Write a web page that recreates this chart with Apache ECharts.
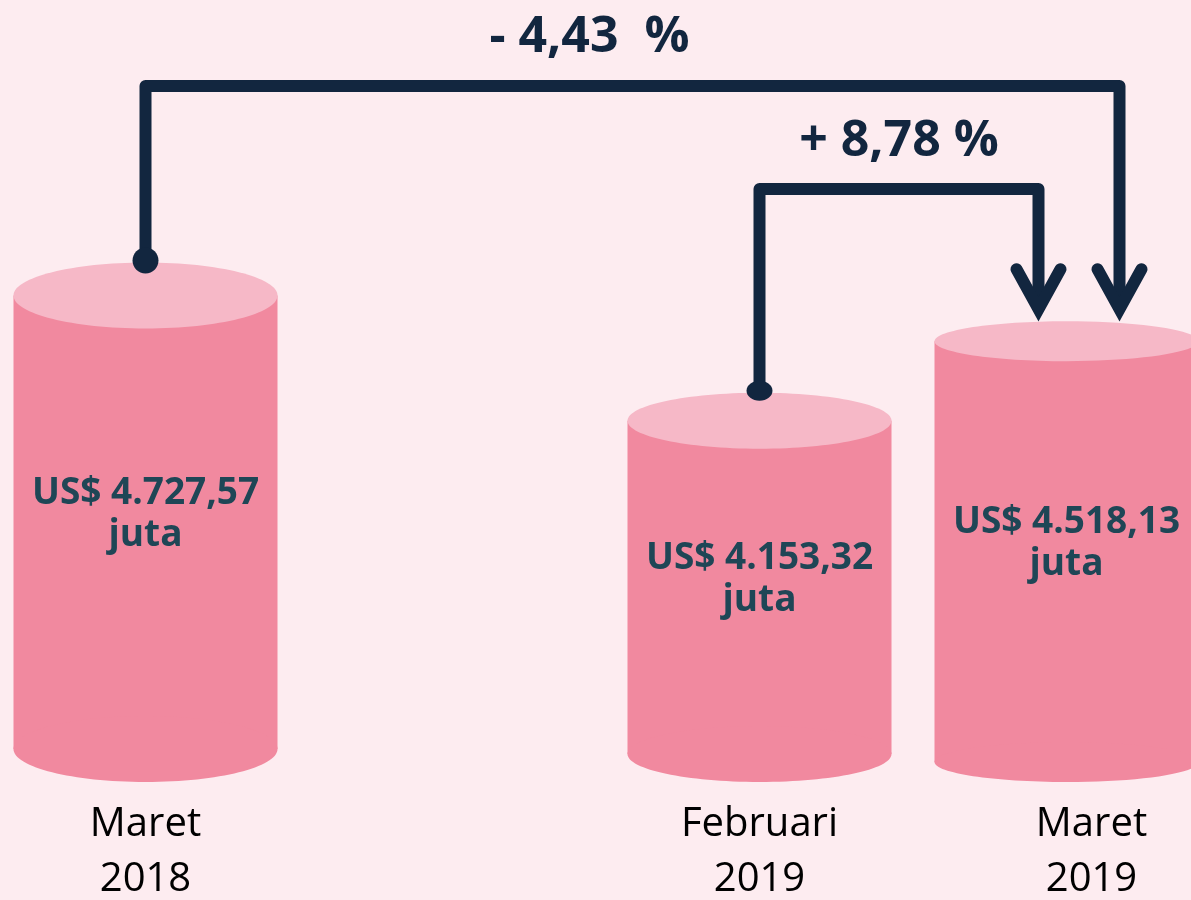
<!DOCTYPE html>
<html>
<head>
<meta charset="utf-8">
<script src="https://cdn.jsdelivr.net/npm/echarts@6/dist/echarts.min.js"></script>
<style>
  html, body { margin: 0; padding: 0; background: #fdecf0; }
  #chart { width: 1191px; height: 900px; }
</style>
</head>
<body>
<div id="chart"></div>
<script>
// data
const periods = ['Maret\n2018', '', 'Februari\n2019', 'Maret\n2019'];
const values = [4727.57, null, 4153.32, 4518.13];
const valueLabels = ['US$ 4.727,57\njuta', '', 'US$ 4.153,32\njuta', 'US$ 4.518,13\njuta'];
const changeFrom = [0, 2];
const changeTo = [3, 3];
const changeLabels = ['- 4,43  %', '+ 8,78 %'];

// look
const capDepth = [33, 0, 28, 20];     // ellipse half-height per slot
const bracketY = [86, 189];
const arrowDx = [53, -28];
const labelDx = [-43, 0];
const labelY = [38, 142];
const Y_MIN = 2500;
const NAVY = '#12263f';

const chart = echarts.init(document.getElementById('chart'));

const cylData = values.map((v, i) => v == null ? null : [i, v]).filter(d => d);

function renderCylinder(params, api) {
    const slot = api.value(0);
    const top = api.coord([slot, api.value(1)]);
    const base = api.coord([slot, Y_MIN]);
    const w = api.size([1, 0])[0] * 0.86;
    const ry = capDepth[slot];
    const botC = base[1] - ry;
    return {
        type: 'group',
        children: [
            { type: 'rect', shape: { x: top[0] - w / 2, y: top[1], width: w, height: botC - top[1] }, style: { fill: '#f1899f' } },
            { type: 'ellipse', shape: { cx: top[0], cy: botC, rx: w / 2, ry: ry }, style: { fill: '#f1899f' } },
            { type: 'ellipse', shape: { cx: top[0], cy: top[1], rx: w / 2, ry: ry }, style: { fill: '#f6b8c7' } },
            {
                type: 'text',
                style: {
                    text: valueLabels[slot],
                    x: top[0], y: (top[1] + botC) / 2 - 8,
                    align: 'center', verticalAlign: 'middle',
                    fontFamily: 'Open Sans', fontWeight: 'bold', fontSize: 37, lineHeight: 42,
                    fill: '#1f4656'
                }
            }
        ]
    };
}

function renderLink(params, api) {
    const i = params.dataIndex;
    const from = changeFrom[i], to = changeTo[i];
    const a = api.coord([from, values[from]]);
    const b = api.coord([to, values[to]]);
    const sx = a[0], sy = a[1] - capDepth[from] - 2;
    const tx = b[0] + arrowDx[i], ty = b[1] - capDepth[to];
    const by = bracketY[i];
    const vertex = ty - 12;
    return {
        type: 'group',
        children: [
            { type: 'polyline', shape: { points: [[sx, sy], [sx, by], [tx, by], [tx, vertex - 6]] },
              style: { stroke: NAVY, lineWidth: 12, fill: null, lineJoin: 'round' } },
            { type: 'polyline', shape: { points: [[tx - 22, vertex - 40], [tx, vertex], [tx + 22, vertex - 40]] },
              style: { stroke: NAVY, lineWidth: 12, fill: null, lineJoin: 'miter', lineCap: 'round' } },
            { type: 'ellipse', shape: { cx: sx, cy: sy, rx: 13, ry: from === 0 ? 13 : 10 }, style: { fill: NAVY } },
            {
                type: 'text',
                style: {
                    text: changeLabels[i],
                    x: (sx + tx) / 2 + labelDx[i], y: labelY[i],
                    align: 'center', verticalAlign: 'middle',
                    fontFamily: 'Open Sans', fontWeight: 'bold', fontSize: 50,
                    fill: NAVY
                }
            }
        ]
    };
}

chart.setOption({
    backgroundColor: '#fdecf0',
    animation: false,
    grid: { left: -8, right: -29, top: 0, bottom: 118, outerBoundsMode: 'none', containLabel: false },
    xAxis: {
        type: 'category',
        data: periods.map((p, i) => i === 3
            ? { value: p, textStyle: { padding: [0, 0, 0, 50] } }
            : p),
        axisLine: { show: false },
        axisTick: { show: false },
        axisLabel: {
            interval: 0,
            margin: 15,
            color: '#000',
            fontFamily: 'Open Sans',
            fontSize: 40,
            lineHeight: 55
        }
    },
    yAxis: { type: 'value', min: Y_MIN, max: 6080, show: false },
    series: [
        { type: 'custom', renderItem: renderCylinder, data: cylData, silent: true },
        { type: 'custom', renderItem: renderLink, data: changeFrom.map((f, i) => [f, changeTo[i]]), encode: { x: 0 }, silent: true, z: 5 }
    ]
});
</script>
</body>
</html>
